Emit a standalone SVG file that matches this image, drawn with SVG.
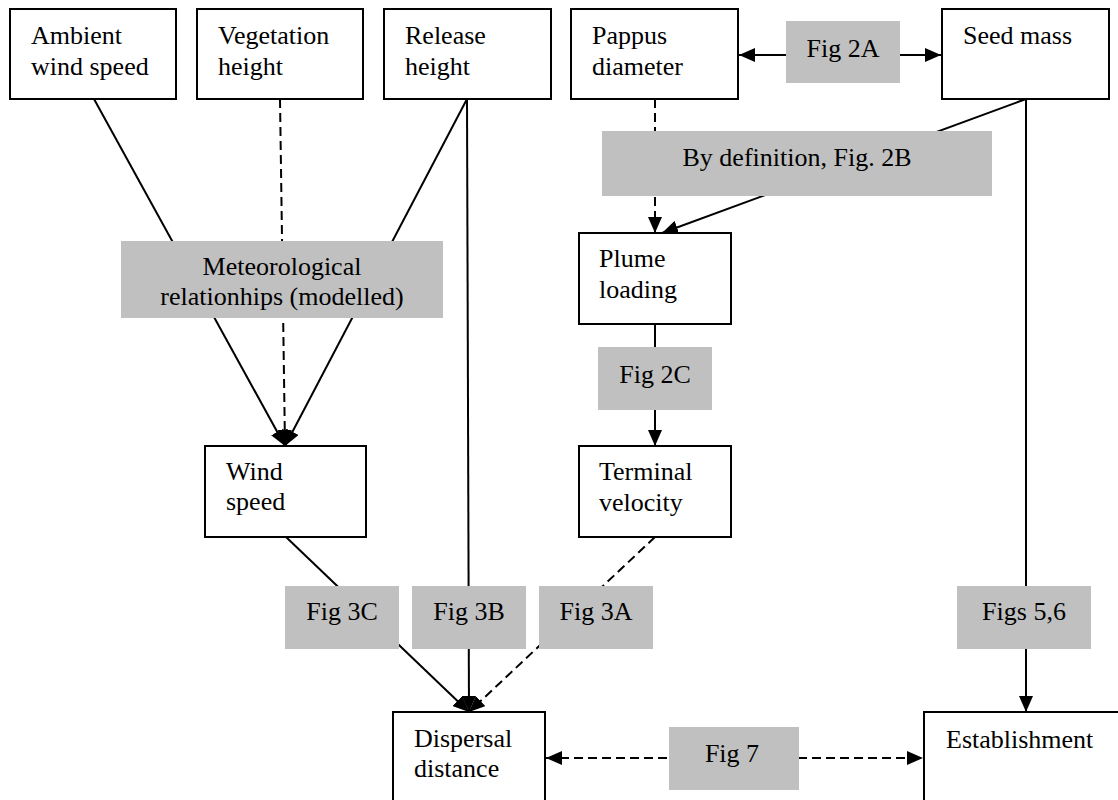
<svg xmlns="http://www.w3.org/2000/svg" width="1118" height="800" viewBox="0 0 1118 800">
<style>
.node rect{fill:#fff;stroke:#000;stroke-width:2}
.lbl rect{fill:#c0c0c0;stroke:none}
text{font-family:"Liberation Serif","Times New Roman",serif;font-size:26px;fill:#000}
.lbl text{text-anchor:middle}
.c{fill:none;stroke:#000;stroke-width:2}
.d{stroke-dasharray:9 5}
</style>
<defs>
<marker id="ah" markerUnits="userSpaceOnUse" markerWidth="16" markerHeight="14" refX="16" refY="7" orient="auto-start-reverse" viewBox="0 0 16 14">
<path d="M0,0 L16,7 L0,14 z" fill="#000"/>
</marker>
</defs>
<rect x="0" y="0" width="1118" height="800" fill="#fff"/>
<g id="connectors">
<line class="c" x1="94" y1="99" x2="285" y2="446" marker-end="url(#ah)"/>
<line class="c d" x1="280" y1="99" x2="285" y2="446" marker-end="url(#ah)"/>
<line class="c" x1="467" y1="99" x2="285" y2="446" marker-end="url(#ah)"/>
<line class="c" x1="467" y1="99" x2="469" y2="712" marker-end="url(#ah)"/>
<line class="c d" x1="655" y1="99" x2="655" y2="233" marker-end="url(#ah)"/>
<line class="c" x1="1026" y1="99" x2="662" y2="233" marker-end="url(#ah)"/>
<line class="c" x1="1026" y1="99" x2="1026" y2="712" marker-end="url(#ah)"/>
<line class="c" x1="739" y1="55" x2="941" y2="55" marker-start="url(#ah)" marker-end="url(#ah)"/>
<line class="c" x1="655" y1="324" x2="655" y2="446" marker-end="url(#ah)"/>
<line class="c" x1="286" y1="537" x2="469" y2="712" marker-end="url(#ah)"/>
<line class="c d" x1="655" y1="537" x2="469" y2="712" marker-end="url(#ah)"/>
<line class="c d" x1="546" y1="758" x2="923" y2="758" marker-start="url(#ah)" marker-end="url(#ah)"/>
</g>
<g id="lbl-fig2a" class="lbl"><rect x="786" y="21" width="114" height="62"/><text x="843" y="57">Fig 2A</text></g>
<g id="lbl-fig2b" class="lbl"><rect x="602" y="131" width="390" height="65"/><text x="797" y="166">By definition, Fig. 2B</text></g>
<g id="lbl-met" class="lbl"><rect x="121" y="241" width="322" height="77"/><text x="282" y="275">Meteorological</text><text x="282" y="305">relationhips (modelled)</text></g>
<g id="lbl-fig2c" class="lbl"><rect x="598" y="347" width="114" height="63"/><text x="655" y="383">Fig 2C</text></g>
<g id="lbl-fig3c" class="lbl"><rect x="285" y="586" width="114" height="63"/><text x="342" y="620">Fig 3C</text></g>
<g id="lbl-fig3b" class="lbl"><rect x="412" y="586" width="114" height="63"/><text x="469" y="620">Fig 3B</text></g>
<g id="lbl-fig3a" class="lbl"><rect x="539" y="586" width="114" height="63"/><text x="596" y="620">Fig 3A</text></g>
<g id="lbl-fig56" class="lbl"><rect x="957" y="586" width="134" height="63"/><text x="1024" y="620">Figs 5,6</text></g>
<g id="lbl-fig7" class="lbl"><rect x="669" y="727" width="130" height="63"/><text x="732" y="762">Fig 7</text></g>
<g id="n-ambient" class="node"><rect x="10" y="9" width="166" height="90"/><text x="31" y="44">Ambient</text><text x="31" y="75">wind speed</text></g>
<g id="n-vegetation" class="node"><rect x="197" y="9" width="166" height="90"/><text x="218" y="44">Vegetation</text><text x="218" y="75">height</text></g>
<g id="n-release" class="node"><rect x="384" y="9" width="167" height="90"/><text x="405" y="44">Release</text><text x="405" y="75">height</text></g>
<g id="n-pappus" class="node"><rect x="571" y="9" width="167" height="90"/><text x="592" y="44">Pappus</text><text x="592" y="75">diameter</text></g>
<g id="n-seedmass" class="node"><rect x="942" y="9" width="167" height="90"/><text x="963" y="44">Seed mass</text></g>
<g id="n-plume" class="node"><rect x="579" y="233" width="152" height="91"/><text x="599" y="267">Plume</text><text x="599" y="298">loading</text></g>
<g id="n-windspeed" class="node"><rect x="205" y="446" width="161" height="91"/><text x="226" y="480">Wind</text><text x="226" y="510">speed</text></g>
<g id="n-terminal" class="node"><rect x="579" y="446" width="152" height="91"/><text x="599" y="480">Terminal</text><text x="599" y="511">velocity</text></g>
<g id="n-dispersal" class="node"><rect x="393" y="712" width="152" height="100"/><text x="414" y="747">Dispersal</text><text x="414" y="777">distance</text></g>
<g id="n-establishment" class="node"><rect x="924" y="712" width="200" height="100"/><text x="946" y="748">Establishment</text></g>
</svg>
